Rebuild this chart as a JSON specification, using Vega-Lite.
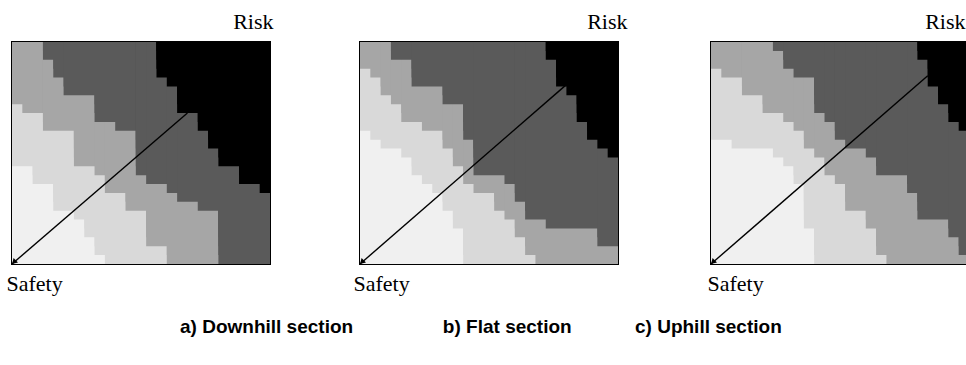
{
  "$schema": "https://vega.github.io/schema/vega-lite/v6.json",
  "padding": {"left": 5, "top": 9, "right": 0, "bottom": 0},
  "config": {
    "view": {"stroke": "black", "strokeWidth": 2},
    "axis": {"labels": false, "grid": false, "domain": false, "ticks": true, "tickColor": "black", "tickSize": 4, "tickWidth": 1, "offset": -4, "zindex": 2}
  },
  "title": {"text": "a) Downhill section\u00a0\u00a0\u00a0\u00a0\u00a0\u00a0\u00a0\u00a0\u00a0\u00a0\u00a0\u00a0\u00a0\u00a0\u00a0\u00a0\u00a0b) Flat section\u00a0\u00a0\u00a0\u00a0\u00a0\u00a0\u00a0\u00a0\u00a0\u00a0\u00a0\u00a0c) Uphill section", "orient": "bottom", "anchor": "start", "frame": "bounds", "dx": 175, "offset": 38, "baseline": "alphabetic", "font": "Liberation Sans", "fontSize": 19, "fontWeight": "bold", "color": "black"},
  "datasets": {
    "cells": [
      {"p":"a","v":0,"y":0,"x":0},
      {"p":"a","v":1,"y":24,"x":0},{"p":"a","v":1,"y":23,"x":0},{"p":"a","v":1,"y":22,"x":0},{"p":"a","v":1,"y":21,"x":0},{"p":"a","v":1,"y":20,"x":0},{"p":"a","v":1,"y":19,"x":0},{"p":"a","v":1,"y":18,"x":0},{"p":"a","v":1,"y":17,"x":0},{"p":"a","v":1,"y":16,"x":0},{"p":"a","v":1,"y":15,"x":0},{"p":"a","v":1,"y":14,"x":0},{"p":"a","v":1,"y":13,"x":0},{"p":"a","v":1,"y":12,"x":0},{"p":"a","v":1,"y":11,"x":0},{"p":"a","v":1,"y":10,"x":2},{"p":"a","v":1,"y":9,"x":2},{"p":"a","v":1,"y":8,"x":4},{"p":"a","v":1,"y":7,"x":4},{"p":"a","v":1,"y":6,"x":4},{"p":"a","v":1,"y":5,"x":6},{"p":"a","v":1,"y":4,"x":7},{"p":"a","v":1,"y":3,"x":7},{"p":"a","v":1,"y":2,"x":8},{"p":"a","v":1,"y":1,"x":8},{"p":"a","v":1,"y":0,"x":9},
      {"p":"a","v":2,"y":24,"x":0},{"p":"a","v":2,"y":23,"x":0},{"p":"a","v":2,"y":22,"x":0},{"p":"a","v":2,"y":21,"x":0},{"p":"a","v":2,"y":20,"x":0},{"p":"a","v":2,"y":19,"x":0},{"p":"a","v":2,"y":18,"x":0},{"p":"a","v":2,"y":17,"x":1},{"p":"a","v":2,"y":16,"x":3},{"p":"a","v":2,"y":15,"x":3},{"p":"a","v":2,"y":14,"x":6},{"p":"a","v":2,"y":13,"x":6},{"p":"a","v":2,"y":12,"x":6},{"p":"a","v":2,"y":11,"x":6},{"p":"a","v":2,"y":10,"x":8},{"p":"a","v":2,"y":9,"x":9},{"p":"a","v":2,"y":8,"x":9},{"p":"a","v":2,"y":7,"x":11},{"p":"a","v":2,"y":6,"x":11},{"p":"a","v":2,"y":5,"x":13},{"p":"a","v":2,"y":4,"x":13},{"p":"a","v":2,"y":3,"x":13},{"p":"a","v":2,"y":2,"x":13},{"p":"a","v":2,"y":1,"x":15},{"p":"a","v":2,"y":0,"x":15},
      {"p":"a","v":3,"y":24,"x":3},{"p":"a","v":3,"y":23,"x":3},{"p":"a","v":3,"y":22,"x":4},{"p":"a","v":3,"y":21,"x":4},{"p":"a","v":3,"y":20,"x":5},{"p":"a","v":3,"y":19,"x":5},{"p":"a","v":3,"y":18,"x":8},{"p":"a","v":3,"y":17,"x":8},{"p":"a","v":3,"y":16,"x":8},{"p":"a","v":3,"y":15,"x":10},{"p":"a","v":3,"y":14,"x":12},{"p":"a","v":3,"y":13,"x":12},{"p":"a","v":3,"y":12,"x":12},{"p":"a","v":3,"y":11,"x":12},{"p":"a","v":3,"y":10,"x":12},{"p":"a","v":3,"y":9,"x":13},{"p":"a","v":3,"y":8,"x":15},{"p":"a","v":3,"y":7,"x":16},{"p":"a","v":3,"y":6,"x":18},{"p":"a","v":3,"y":5,"x":20},{"p":"a","v":3,"y":4,"x":20},{"p":"a","v":3,"y":3,"x":20},{"p":"a","v":3,"y":2,"x":20},{"p":"a","v":3,"y":1,"x":20},{"p":"a","v":3,"y":0,"x":20},
      {"p":"a","v":4,"y":24,"x":14},{"p":"a","v":4,"y":23,"x":14},{"p":"a","v":4,"y":22,"x":14},{"p":"a","v":4,"y":21,"x":14},{"p":"a","v":4,"y":20,"x":15},{"p":"a","v":4,"y":19,"x":16},{"p":"a","v":4,"y":18,"x":16},{"p":"a","v":4,"y":17,"x":16},{"p":"a","v":4,"y":16,"x":18},{"p":"a","v":4,"y":15,"x":18},{"p":"a","v":4,"y":14,"x":19},{"p":"a","v":4,"y":13,"x":19},{"p":"a","v":4,"y":12,"x":20},{"p":"a","v":4,"y":11,"x":20},{"p":"a","v":4,"y":10,"x":22},{"p":"a","v":4,"y":9,"x":22},{"p":"a","v":4,"y":8,"x":24},

      {"p":"b","v":0,"y":0,"x":0},
      {"p":"b","v":1,"y":24,"x":0},{"p":"b","v":1,"y":23,"x":0},{"p":"b","v":1,"y":22,"x":0},{"p":"b","v":1,"y":21,"x":0},{"p":"b","v":1,"y":20,"x":0},{"p":"b","v":1,"y":19,"x":0},{"p":"b","v":1,"y":18,"x":0},{"p":"b","v":1,"y":17,"x":0},{"p":"b","v":1,"y":16,"x":0},{"p":"b","v":1,"y":15,"x":0},{"p":"b","v":1,"y":14,"x":1},{"p":"b","v":1,"y":13,"x":2},{"p":"b","v":1,"y":12,"x":4},{"p":"b","v":1,"y":11,"x":5},{"p":"b","v":1,"y":10,"x":5},{"p":"b","v":1,"y":9,"x":6},{"p":"b","v":1,"y":8,"x":7},{"p":"b","v":1,"y":7,"x":8},{"p":"b","v":1,"y":6,"x":8},{"p":"b","v":1,"y":5,"x":9},{"p":"b","v":1,"y":4,"x":9},{"p":"b","v":1,"y":3,"x":10},{"p":"b","v":1,"y":2,"x":10},{"p":"b","v":1,"y":1,"x":10},{"p":"b","v":1,"y":0,"x":10},
      {"p":"b","v":2,"y":24,"x":0},{"p":"b","v":2,"y":23,"x":0},{"p":"b","v":2,"y":22,"x":0},{"p":"b","v":2,"y":21,"x":1},{"p":"b","v":2,"y":20,"x":2},{"p":"b","v":2,"y":19,"x":2},{"p":"b","v":2,"y":18,"x":3},{"p":"b","v":2,"y":17,"x":4},{"p":"b","v":2,"y":16,"x":4},{"p":"b","v":2,"y":15,"x":6},{"p":"b","v":2,"y":14,"x":8},{"p":"b","v":2,"y":13,"x":8},{"p":"b","v":2,"y":12,"x":9},{"p":"b","v":2,"y":11,"x":9},{"p":"b","v":2,"y":10,"x":10},{"p":"b","v":2,"y":9,"x":10},{"p":"b","v":2,"y":8,"x":11},{"p":"b","v":2,"y":7,"x":13},{"p":"b","v":2,"y":6,"x":13},{"p":"b","v":2,"y":5,"x":14},{"p":"b","v":2,"y":4,"x":15},{"p":"b","v":2,"y":3,"x":15},{"p":"b","v":2,"y":2,"x":16},{"p":"b","v":2,"y":1,"x":16},{"p":"b","v":2,"y":0,"x":17},
      {"p":"b","v":3,"y":24,"x":3},{"p":"b","v":3,"y":23,"x":3},{"p":"b","v":3,"y":22,"x":5},{"p":"b","v":3,"y":21,"x":5},{"p":"b","v":3,"y":20,"x":5},{"p":"b","v":3,"y":19,"x":8},{"p":"b","v":3,"y":18,"x":8},{"p":"b","v":3,"y":17,"x":10},{"p":"b","v":3,"y":16,"x":10},{"p":"b","v":3,"y":15,"x":10},{"p":"b","v":3,"y":14,"x":10},{"p":"b","v":3,"y":13,"x":11},{"p":"b","v":3,"y":12,"x":11},{"p":"b","v":3,"y":11,"x":11},{"p":"b","v":3,"y":10,"x":11},{"p":"b","v":3,"y":9,"x":14},{"p":"b","v":3,"y":8,"x":15},{"p":"b","v":3,"y":7,"x":15},{"p":"b","v":3,"y":6,"x":16},{"p":"b","v":3,"y":5,"x":16},{"p":"b","v":3,"y":4,"x":18},{"p":"b","v":3,"y":3,"x":23},{"p":"b","v":3,"y":2,"x":23},
      {"p":"b","v":4,"y":24,"x":18},{"p":"b","v":4,"y":23,"x":18},{"p":"b","v":4,"y":22,"x":19},{"p":"b","v":4,"y":21,"x":19},{"p":"b","v":4,"y":20,"x":19},{"p":"b","v":4,"y":19,"x":20},{"p":"b","v":4,"y":18,"x":21},{"p":"b","v":4,"y":17,"x":21},{"p":"b","v":4,"y":16,"x":21},{"p":"b","v":4,"y":15,"x":22},{"p":"b","v":4,"y":14,"x":22},{"p":"b","v":4,"y":13,"x":23},{"p":"b","v":4,"y":12,"x":24},

      {"p":"c","v":0,"y":0,"x":0},
      {"p":"c","v":1,"y":24,"x":0},{"p":"c","v":1,"y":23,"x":0},{"p":"c","v":1,"y":22,"x":0},{"p":"c","v":1,"y":21,"x":0},{"p":"c","v":1,"y":20,"x":0},{"p":"c","v":1,"y":19,"x":0},{"p":"c","v":1,"y":18,"x":0},{"p":"c","v":1,"y":17,"x":0},{"p":"c","v":1,"y":16,"x":0},{"p":"c","v":1,"y":15,"x":0},{"p":"c","v":1,"y":14,"x":0},{"p":"c","v":1,"y":13,"x":2},{"p":"c","v":1,"y":12,"x":6},{"p":"c","v":1,"y":11,"x":7},{"p":"c","v":1,"y":10,"x":8},{"p":"c","v":1,"y":9,"x":8},{"p":"c","v":1,"y":8,"x":9},{"p":"c","v":1,"y":7,"x":9},{"p":"c","v":1,"y":6,"x":9},{"p":"c","v":1,"y":5,"x":9},{"p":"c","v":1,"y":4,"x":9},{"p":"c","v":1,"y":3,"x":10},{"p":"c","v":1,"y":2,"x":10},{"p":"c","v":1,"y":1,"x":10},{"p":"c","v":1,"y":0,"x":10},
      {"p":"c","v":2,"y":24,"x":0},{"p":"c","v":2,"y":23,"x":0},{"p":"c","v":2,"y":22,"x":0},{"p":"c","v":2,"y":21,"x":1},{"p":"c","v":2,"y":20,"x":3},{"p":"c","v":2,"y":19,"x":3},{"p":"c","v":2,"y":18,"x":5},{"p":"c","v":2,"y":17,"x":5},{"p":"c","v":2,"y":16,"x":7},{"p":"c","v":2,"y":15,"x":8},{"p":"c","v":2,"y":14,"x":9},{"p":"c","v":2,"y":13,"x":9},{"p":"c","v":2,"y":12,"x":10},{"p":"c","v":2,"y":11,"x":11},{"p":"c","v":2,"y":10,"x":11},{"p":"c","v":2,"y":9,"x":12},{"p":"c","v":2,"y":8,"x":13},{"p":"c","v":2,"y":7,"x":13},{"p":"c","v":2,"y":6,"x":13},{"p":"c","v":2,"y":5,"x":15},{"p":"c","v":2,"y":4,"x":15},{"p":"c","v":2,"y":3,"x":16},{"p":"c","v":2,"y":2,"x":16},{"p":"c","v":2,"y":1,"x":16},{"p":"c","v":2,"y":0,"x":17},
      {"p":"c","v":3,"y":24,"x":6},{"p":"c","v":3,"y":23,"x":7},{"p":"c","v":3,"y":22,"x":7},{"p":"c","v":3,"y":21,"x":8},{"p":"c","v":3,"y":20,"x":10},{"p":"c","v":3,"y":19,"x":10},{"p":"c","v":3,"y":18,"x":10},{"p":"c","v":3,"y":17,"x":10},{"p":"c","v":3,"y":16,"x":11},{"p":"c","v":3,"y":15,"x":12},{"p":"c","v":3,"y":14,"x":12},{"p":"c","v":3,"y":13,"x":13},{"p":"c","v":3,"y":12,"x":15},{"p":"c","v":3,"y":11,"x":16},{"p":"c","v":3,"y":10,"x":16},{"p":"c","v":3,"y":9,"x":19},{"p":"c","v":3,"y":8,"x":19},{"p":"c","v":3,"y":7,"x":20},{"p":"c","v":3,"y":6,"x":20},{"p":"c","v":3,"y":5,"x":20},{"p":"c","v":3,"y":4,"x":23},{"p":"c","v":3,"y":3,"x":23},{"p":"c","v":3,"y":2,"x":24},{"p":"c","v":3,"y":1,"x":24},
      {"p":"c","v":4,"y":24,"x":20},{"p":"c","v":4,"y":23,"x":20},{"p":"c","v":4,"y":22,"x":21},{"p":"c","v":4,"y":21,"x":21},{"p":"c","v":4,"y":20,"x":21},{"p":"c","v":4,"y":19,"x":22},{"p":"c","v":4,"y":18,"x":22},{"p":"c","v":4,"y":17,"x":23},{"p":"c","v":4,"y":16,"x":23},{"p":"c","v":4,"y":15,"x":24}
    ],
    "arrows": [
      {"p":"a","x":0,"y":0},{"p":"a","x":17,"y":17},
      {"p":"b","x":0,"y":0},{"p":"b","x":20,"y":20.2},
      {"p":"c","x":0,"y":0},{"p":"c","x":21,"y":21.2}
    ]
  },
  "spacing": 78,
  "hconcat": [
    {
      "width": 258, "height": 222,
      "resolve": {"axis": {"x": "independent", "y": "independent"}},
      "layer": [
        {
          "data": {"name": "cells"},
          "transform": [{"filter": "datum.p == 'a'"}],
          "mark": {"type": "rect"},
          "encoding": {
            "x": {"field": "x", "type": "quantitative", "scale": {"domain": [0, 25], "nice": false, "zero": false}, "axis": {"orient": "bottom", "values": [5, 10, 15, 20], "title": "Safety", "titleX": -6, "titleY": 30, "titleAlign": "left", "titleBaseline": "alphabetic", "titleAngle": 0, "titleFont": "Liberation Serif", "titleFontSize": 22, "titleFontWeight": "normal", "titleColor": "black"}},
            "x2": {"datum": 25},
            "y": {"field": "y", "type": "quantitative", "scale": {"domain": [0, 25], "nice": false, "zero": false}, "axis": {"orient": "left", "values": [5, 10, 15, 20], "title": null}},
            "y2": {"datum": 25},
            "fill": {"field": "v", "type": "ordinal", "scale": {"domain": [0, 1, 2, 3, 4], "range": ["#f0f0f0", "#d9d9d9", "#a6a6a6", "#5a5a5a", "#000000"]}, "legend": null}
          }
        },
        {
          "data": {"name": "arrows"},
          "transform": [{"filter": "datum.p == 'a'"}],
          "mark": {"type": "line", "color": "black", "strokeWidth": 1.4},
          "encoding": {
            "x": {"field": "x", "type": "quantitative", "scale": {"domain": [0, 25], "nice": false, "zero": false}, "axis": {"orient": "top", "values": [5, 10, 15, 20], "title": "Risk", "titleX": 261, "titleY": -18, "titleAlign": "right", "titleBaseline": "alphabetic", "titleAngle": 0, "titleFont": "Liberation Serif", "titleFontSize": 22, "titleFontWeight": "normal", "titleColor": "black"}},
            "y": {"field": "y", "type": "quantitative", "scale": {"domain": [0, 25], "nice": false, "zero": false}, "axis": {"orient": "right", "values": [5, 10, 15, 20], "title": null}}
          }
        },
        {
          "data": {"name": "arrows"},
          "transform": [{"filter": "datum.p == 'a' && datum.x == 0"}],
          "mark": {"type": "point", "shape": "M0,0L1.9,-0.5L0.5,-1.9Z", "filled": true, "color": "black", "size": 40, "opacity": 1, "strokeWidth": 0},
          "encoding": {
            "x": {"field": "x", "type": "quantitative", "scale": {"domain": [0, 25], "nice": false, "zero": false}, "axis": null},
            "y": {"field": "y", "type": "quantitative", "scale": {"domain": [0, 25], "nice": false, "zero": false}, "axis": null}
          }
        }
      ]
    },
    {
      "width": 258, "height": 222,
      "resolve": {"axis": {"x": "independent", "y": "independent"}},
      "layer": [
        {
          "data": {"name": "cells"},
          "transform": [{"filter": "datum.p == 'b'"}],
          "mark": {"type": "rect"},
          "encoding": {
            "x": {"field": "x", "type": "quantitative", "scale": {"domain": [0, 25], "nice": false, "zero": false}, "axis": {"orient": "bottom", "values": [5, 10, 15, 20], "title": "Safety", "titleX": -7, "titleY": 30, "titleAlign": "left", "titleBaseline": "alphabetic", "titleAngle": 0, "titleFont": "Liberation Serif", "titleFontSize": 22, "titleFontWeight": "normal", "titleColor": "black"}},
            "x2": {"datum": 25},
            "y": {"field": "y", "type": "quantitative", "scale": {"domain": [0, 25], "nice": false, "zero": false}, "axis": {"orient": "left", "values": [5, 10, 15, 20], "title": null}},
            "y2": {"datum": 25},
            "fill": {"field": "v", "type": "ordinal", "scale": {"domain": [0, 1, 2, 3, 4], "range": ["#f0f0f0", "#d9d9d9", "#a6a6a6", "#5a5a5a", "#000000"]}, "legend": null}
          }
        },
        {
          "data": {"name": "arrows"},
          "transform": [{"filter": "datum.p == 'b'"}],
          "mark": {"type": "line", "color": "black", "strokeWidth": 1.4},
          "encoding": {
            "x": {"field": "x", "type": "quantitative", "scale": {"domain": [0, 25], "nice": false, "zero": false}, "axis": {"orient": "top", "values": [5, 10, 15, 20], "title": "Risk", "titleX": 267, "titleY": -18, "titleAlign": "right", "titleBaseline": "alphabetic", "titleAngle": 0, "titleFont": "Liberation Serif", "titleFontSize": 22, "titleFontWeight": "normal", "titleColor": "black"}},
            "y": {"field": "y", "type": "quantitative", "scale": {"domain": [0, 25], "nice": false, "zero": false}, "axis": {"orient": "right", "values": [5, 10, 15, 20], "title": null}}
          }
        },
        {
          "data": {"name": "arrows"},
          "transform": [{"filter": "datum.p == 'b' && datum.x == 0"}],
          "mark": {"type": "point", "shape": "M0,0L1.9,-0.5L0.5,-1.9Z", "filled": true, "color": "black", "size": 40, "opacity": 1, "strokeWidth": 0},
          "encoding": {
            "x": {"field": "x", "type": "quantitative", "scale": {"domain": [0, 25], "nice": false, "zero": false}, "axis": null},
            "y": {"field": "y", "type": "quantitative", "scale": {"domain": [0, 25], "nice": false, "zero": false}, "axis": null}
          }
        }
      ]
    },
    {
      "width": 258, "height": 222,
      "resolve": {"axis": {"x": "independent", "y": "independent"}},
      "layer": [
        {
          "data": {"name": "cells"},
          "transform": [{"filter": "datum.p == 'c'"}],
          "mark": {"type": "rect"},
          "encoding": {
            "x": {"field": "x", "type": "quantitative", "scale": {"domain": [0, 25], "nice": false, "zero": false}, "axis": {"orient": "bottom", "values": [5, 10, 15, 20], "title": "Safety", "titleX": -4, "titleY": 30, "titleAlign": "left", "titleBaseline": "alphabetic", "titleAngle": 0, "titleFont": "Liberation Serif", "titleFontSize": 22, "titleFontWeight": "normal", "titleColor": "black"}},
            "x2": {"datum": 25},
            "y": {"field": "y", "type": "quantitative", "scale": {"domain": [0, 25], "nice": false, "zero": false}, "axis": {"orient": "left", "values": [5, 10, 15, 20], "title": null}},
            "y2": {"datum": 25},
            "fill": {"field": "v", "type": "ordinal", "scale": {"domain": [0, 1, 2, 3, 4], "range": ["#f0f0f0", "#d9d9d9", "#a6a6a6", "#5a5a5a", "#000000"]}, "legend": null}
          }
        },
        {
          "data": {"name": "arrows"},
          "transform": [{"filter": "datum.p == 'c'"}],
          "mark": {"type": "line", "color": "black", "strokeWidth": 1.4},
          "encoding": {
            "x": {"field": "x", "type": "quantitative", "scale": {"domain": [0, 25], "nice": false, "zero": false}, "axis": {"orient": "top", "values": [5, 10, 15, 20], "title": "Risk", "titleX": 254, "titleY": -18, "titleAlign": "right", "titleBaseline": "alphabetic", "titleAngle": 0, "titleFont": "Liberation Serif", "titleFontSize": 22, "titleFontWeight": "normal", "titleColor": "black"}},
            "y": {"field": "y", "type": "quantitative", "scale": {"domain": [0, 25], "nice": false, "zero": false}, "axis": {"orient": "right", "values": [5, 10, 15, 20], "title": null}}
          }
        },
        {
          "data": {"name": "arrows"},
          "transform": [{"filter": "datum.p == 'c' && datum.x == 0"}],
          "mark": {"type": "point", "shape": "M0,0L1.9,-0.5L0.5,-1.9Z", "filled": true, "color": "black", "size": 40, "opacity": 1, "strokeWidth": 0},
          "encoding": {
            "x": {"field": "x", "type": "quantitative", "scale": {"domain": [0, 25], "nice": false, "zero": false}, "axis": null},
            "y": {"field": "y", "type": "quantitative", "scale": {"domain": [0, 25], "nice": false, "zero": false}, "axis": null}
          }
        }
      ]
    }
  ]
}
